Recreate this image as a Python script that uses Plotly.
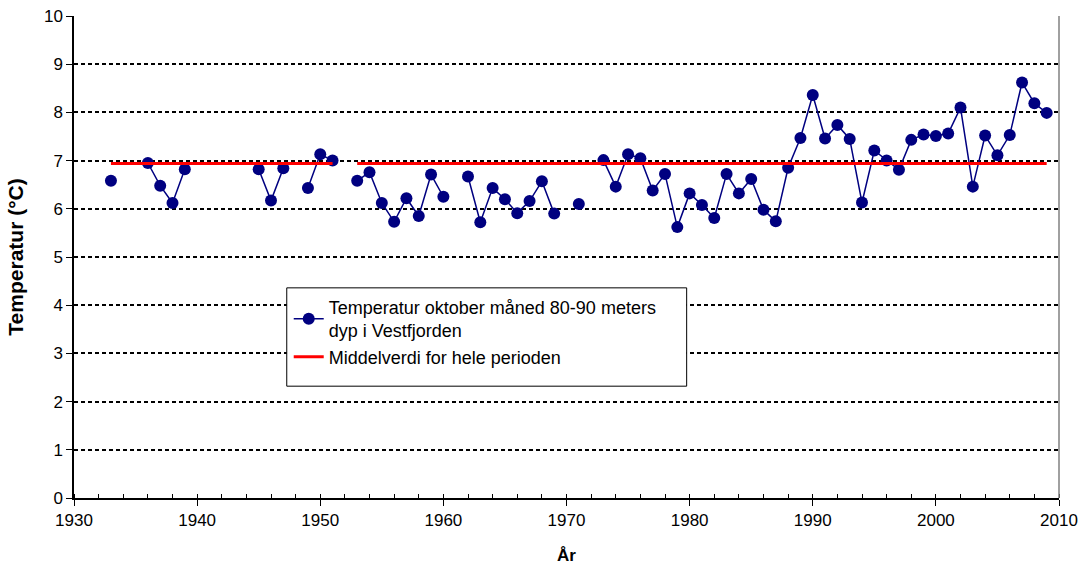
import plotly.graph_objects as go

years = list(range(1933, 2010))
temps = [6.58, None, None, 6.95, 6.48, 6.12, 6.82,
         None, None, None, None, None, 6.82, 6.17, 6.84, None, 6.43,
         7.13, 7.00, None, 6.58, 6.76, 6.12, 5.73, 6.22, 5.85, 6.71,
         6.25, None, 6.67, 5.72, 6.43, 6.20, 5.91, 6.16, 6.57, 5.90,
         None, 6.10, None, 7.01, 6.46, 7.13, 7.05, 6.38, 6.72, 5.62,
         6.32, 6.08, 5.81, 6.72, 6.32, 6.62, 5.98, 5.74, 6.85, 7.47,
         8.36, 7.46, 7.74, 7.45, 6.13, 7.21, 7.00, 6.81, 7.43, 7.54,
         7.51, 7.56, 8.10, 6.46, 7.52, 7.11, 7.53, 8.62, 8.19, 7.99]
mean_value = 6.94
mean_line = [None if y == 1952 else mean_value for y in years]

series_name = "Temperatur oktober måned 80-90 meters<br>dyp i Vestfjorden"
mean_name = "Middelverdi for hele perioden"

font = "Liberation Sans, Arial, sans-serif"

fig = go.Figure()
fig.add_trace(go.Scatter(
    x=years, y=temps, mode="lines+markers", name=series_name,
    line=dict(color="#000080", width=1.5),
    marker=dict(color="#000080", size=12),
    connectgaps=False,
))
fig.add_trace(go.Scatter(
    x=years, y=mean_line, mode="lines", name=mean_name,
    line=dict(color="#FF0000", width=3),
    connectgaps=False,
))

# legend frame (box is taller than the legend content)
fig.add_shape(type="rect", xref="paper", yref="paper",
              x0=0.216, x1=0.622, y0=0.232, y1=0.436,
              line=dict(color="black", width=1), fillcolor="white", layer="above")
# right border of plot area
fig.add_shape(type="line", xref="paper", yref="paper",
              x0=1, x1=1, y0=0, y1=1,
              line=dict(color="#808080", width=1.5), layer="above")

fig.update_layout(
    width=1081, height=567,
    margin=dict(l=74, r=22, t=16, b=69),
    paper_bgcolor="white", plot_bgcolor="white",
    font=dict(family=font, size=16, color="black"),
    legend=dict(x=0.218, y=0.434, xanchor="left", yanchor="top",
                bgcolor="rgba(0,0,0,0)", borderwidth=0,
                font=dict(size=18), tracegroupgap=0, itemwidth=30),
    showlegend=True,
)
fig.update_xaxes(
    range=[1930, 2010], dtick=10, tick0=1930,
    showline=True, linecolor="black", linewidth=1.5,
    ticks="outside", ticklen=6, tickcolor="black",
    minor=dict(dtick=2, ticks="inside", ticklen=4, tickcolor="black", showgrid=False),
    showgrid=False, zeroline=False, automargin=False,
    title=dict(text="<b>År</b>", font=dict(size=17), standoff=20),
    tickfont=dict(size=17),
)
fig.update_yaxes(
    range=[0, 10], dtick=1,
    showline=True, linecolor="black", linewidth=1.5,
    ticks="outside", ticklen=6, tickcolor="black",
    showgrid=True, gridcolor="black", gridwidth=2, griddash="4px,3px",
    zeroline=False, automargin=False,
    title=dict(text="<b>Temperatur (°C)</b>", font=dict(size=21), standoff=15),
    tickfont=dict(size=17),
)

fig.write_html("out.html",
               config={"displayModeBar": False},
               post_script="document.body.style.margin='0';document.body.style.padding='0';")
